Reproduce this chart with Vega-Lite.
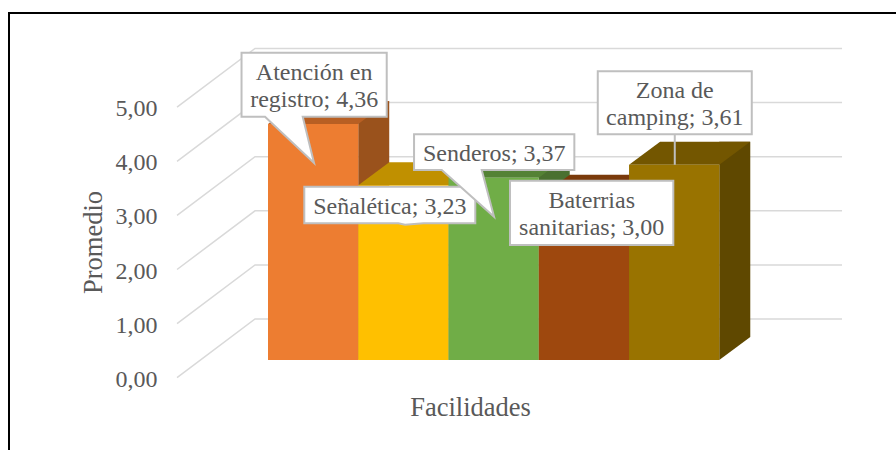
{
"$schema":"https://vega.github.io/schema/vega-lite/v6.json",
"autosize":"none",
"padding":{"left":9,"top":13,"right":0,"bottom":0},
"width":888,
"height":438,
"background":"white",
"view":{"stroke":"#000000","strokeWidth":2,"fill":"white"},
"config":{"axisX":{"labels":false,"ticks":false,"domain":false,"grid":false,"titleFont":"Liberation Serif","titleFontSize":26.5,"titleFontWeight":"normal","titleColor":"#595959","titleX":461,"titleY":-36,"titleAlign":"center","titleBaseline":"alphabetic"}},
"data":{"values":[
{"Facilidad":"Atención en registro","Promedio":4.36,"Etiqueta":"Atención en\nregistro; 4,36"},
{"Facilidad":"Señalética","Promedio":3.23,"Etiqueta":"Señalética; 3,23"},
{"Facilidad":"Senderos","Promedio":3.37,"Etiqueta":"Senderos; 3,37"},
{"Facilidad":"Baterrias sanitarias","Promedio":3.00,"Etiqueta":"Baterrias\nsanitarias; 3,00"},
{"Facilidad":"Zona de camping","Promedio":3.61,"Etiqueta":"Zona de\ncamping; 3,61"}
]},
"layer":[
{"data":{"values":[{"Tick":0},{"Tick":1},{"Tick":2},{"Tick":3},{"Tick":4},{"Tick":5}]},
 "mark":{"type":"point","shape":"M-136.1,0L-58.1,-58.7H528.9","size":4,"filled":false,"stroke":"#D9D9D9","strokeWidth":1.5,"opacity":1},
 "encoding":{
  "x":{"datum":"Atención en registro","title":"Facilidades"},
  "y":{"field":"Tick","type":"quantitative","scale":{"domain":[0,5],"range":[364.7,94.2],"nice":false,"zero":false},
   "axis":{"title":"Promedio","orient":"left","offset":-148,"domain":false,"ticks":false,"grid":false,"values":[0,1,2,3,4,5],"format":".2f","labelExpr":"replace(datum.label,'.',',')","labelPadding":0,"labelFont":"Liberation Serif","labelFontSize":24,"labelColor":"#595959","labelOffset":1.5,"titleFont":"Liberation Serif","titleFontSize":26.5,"titleFontWeight":"normal","titleColor":"#595959","titleX":-56,"titleY":229,"titleAngle":-90,"titleAlign":"center","titleBaseline":"alphabetic"}}
 }},
{"mark":{"type":"bar","width":31,"xOffset":60.6,"yOffset":-40.7,"y2Offset":-40.7},
 "encoding":{
  "x":{"field":"Facilidad","type":"nominal","sort":null,"title":"Facilidades"},
  "y":{"field":"Promedio","type":"quantitative"},
  "y2":{"datum":0},
  "color":{"field":"Facilidad","type":"nominal","sort":null,"legend":null,"scale":{"range":["#9A521C","#A07C00","#4A7030","#6A300A","#5F4800"]}}
 }},
{"mark":{"type":"point","filled":true,"opacity":1,"size":4,"yOffset":-17.7,"shape":"M45.1,0V-23H76.1Z"},
 "encoding":{
  "x":{"field":"Facilidad","type":"nominal","sort":null,"title":"Facilidades"},
  "y":{"datum":0},
  "color":{"field":"Facilidad","type":"nominal","sort":null,"legend":null,"scale":{"range":["#9A521C","#A07C00","#4A7030","#6A300A","#5F4800"]}}
 }},
{"mark":{"type":"point","filled":true,"opacity":1,"size":4,"yOffset":-17.7,"shape":"M-45.1,0L-14.1,-23H76.1L45.1,0Z"},
 "encoding":{
  "x":{"field":"Facilidad","type":"nominal","sort":null,"title":"Facilidades"},
  "y":{"field":"Promedio","type":"quantitative"},
  "color":{"field":"Facilidad","type":"nominal","sort":null,"legend":null,"scale":{"range":["#B85F23","#C09000","#548235","#7A3A0B","#735600"]}}
 }},
{"mark":{"type":"bar","yOffset":-17.7,"y2Offset":-17.7},
 "encoding":{
  "x":{"field":"Facilidad","type":"nominal","sort":null,"title":"Facilidades","scale":{"range":[259,710.3],"paddingInner":0,"paddingOuter":0}},
  "y":{"field":"Promedio","type":"quantitative"},
  "y2":{"datum":0},
  "color":{"field":"Facilidad","type":"nominal","sort":null,"legend":null,"scale":{"range":["#ED7D31","#FFC000","#70AD47","#9E480E","#997300"]}}
 }},
{"mark":{"type":"point","filled":true,"fill":"#FFFFFF","stroke":"#BFBFBF","strokeWidth":2,"opacity":1,"size":4,"yOffset":-17.7},
 "encoding":{
  "x":{"field":"Facilidad","type":"nominal","sort":null,"title":"Facilidades"},
  "y":{"field":"Promedio","type":"quantitative"},
  "shape":{"field":"Facilidad","type":"nominal","sort":null,"legend":null,"scale":{"range":[
   "M-71.6,-71.4H73.6V-7.4H-10.4L0.9,38.9L-48.1,-7.4H-71.6Z",
   "M-99.1,1.4H71.9V38H20L1.6,39.5L-5,38H-99.1Z",
   "M-79.6,-43.4H80.7V-7.7H-11.9L0.4,39L-51.9,-7.7H-79.6Z",
   "M-73.9,-17H89.4V47.3H-73.9Z",
   "M-76.4,-93.4H77.6V-30.4H0.6V0V-30.4H-76.4Z"
  ]}}
 }},
{"transform":[{"filter":"datum.Facilidad==='Atención en registro'"}],
 "mark":{"type":"text","font":"Liberation Serif","fontSize":24,"color":"#595959","align":"center","baseline":"alphabetic","lineBreak":"\n","lineHeight":27,"yOffset":-17.7,"dx":1,"dy":-44.1},
 "encoding":{"x":{"field":"Facilidad","type":"nominal","sort":null,"title":"Facilidades"},"y":{"field":"Promedio","type":"quantitative"},"text":{"field":"Etiqueta"}}},
{"transform":[{"filter":"datum.Facilidad==='Señalética'"}],
 "mark":{"type":"text","font":"Liberation Serif","fontSize":24,"color":"#595959","align":"center","baseline":"alphabetic","lineBreak":"\n","lineHeight":27,"yOffset":-17.7,"dx":-13.6,"dy":28.7},
 "encoding":{"x":{"field":"Facilidad","type":"nominal","sort":null,"title":"Facilidades"},"y":{"field":"Promedio","type":"quantitative"},"text":{"field":"Etiqueta"}}},
{"transform":[{"filter":"datum.Facilidad==='Senderos'"}],
 "mark":{"type":"text","font":"Liberation Serif","fontSize":24,"color":"#595959","align":"center","baseline":"alphabetic","lineBreak":"\n","lineHeight":27,"yOffset":-17.7,"dx":0.6,"dy":-17},
 "encoding":{"x":{"field":"Facilidad","type":"nominal","sort":null,"title":"Facilidades"},"y":{"field":"Promedio","type":"quantitative"},"text":{"field":"Etiqueta"}}},
{"transform":[{"filter":"datum.Facilidad==='Baterrias sanitarias'"}],
 "mark":{"type":"text","font":"Liberation Serif","fontSize":24,"color":"#595959","align":"center","baseline":"alphabetic","lineBreak":"\n","lineHeight":27,"yOffset":-17.7,"dx":7.8,"dy":10.6},
 "encoding":{"x":{"field":"Facilidad","type":"nominal","sort":null,"title":"Facilidades"},"y":{"field":"Promedio","type":"quantitative"},"text":{"field":"Etiqueta"}}},
{"transform":[{"filter":"datum.Facilidad==='Zona de camping'"}],
 "mark":{"type":"text","font":"Liberation Serif","fontSize":24,"color":"#595959","align":"center","baseline":"alphabetic","lineBreak":"\n","lineHeight":27,"yOffset":-17.7,"dx":0.6,"dy":-66.4},
 "encoding":{"x":{"field":"Facilidad","type":"nominal","sort":null,"title":"Facilidades"},"y":{"field":"Promedio","type":"quantitative"},"text":{"field":"Etiqueta"}}}
],
"resolve":{"scale":{"color":"independent","shape":"independent"}}
}
